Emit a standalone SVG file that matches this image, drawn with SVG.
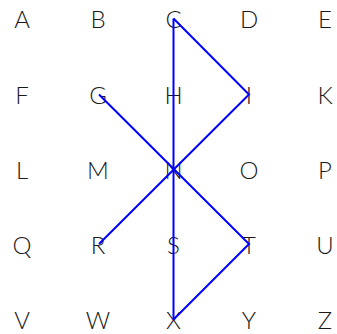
<svg xmlns="http://www.w3.org/2000/svg" width="337" height="334" viewBox="0 0 337 334">
<style>
text{font-family:Lato,"Noto Sans","Liberation Sans",sans-serif;font-size:24px;font-weight:300;fill:#1a1a1a;text-anchor:middle}
.c{stroke:#0000ff;stroke-width:2;fill:none;stroke-linejoin:miter}
</style>
<rect width="337" height="334" fill="#fff"/>
<g id="nodes">
<g id="A"><text x="22" y="28">A</text></g>
<g id="B"><text x="98" y="28">B</text></g>
<g id="C"><text x="173.5" y="28">C</text></g>
<g id="D"><text x="249" y="28">D</text></g>
<g id="E"><text x="325" y="28">E</text></g>
<g id="F"><text x="22" y="103.5">F</text></g>
<g id="G"><text x="98" y="103.5">G</text></g>
<g id="H"><text x="173.5" y="103.5">H</text></g>
<g id="I"><text x="249" y="103.5">I</text></g>
<g id="K"><text x="325" y="103.5">K</text></g>
<g id="L"><text x="22" y="179">L</text></g>
<g id="M"><text x="98" y="179">M</text></g>
<g id="N"><text x="173.5" y="179">N</text></g>
<g id="O"><text x="249" y="179">O</text></g>
<g id="P"><text x="325" y="179">P</text></g>
<g id="Q"><text x="22" y="254">Q</text></g>
<g id="R"><text x="98" y="254">R</text></g>
<g id="S"><text x="173.5" y="254">S</text></g>
<g id="T"><text x="249" y="254">T</text></g>
<g id="U"><text x="325" y="254">U</text></g>
<g id="V"><text x="22" y="329">V</text></g>
<g id="W"><text x="98" y="329">W</text></g>
<g id="X"><text x="173.5" y="329">X</text></g>
<g id="Y"><text x="249" y="329">Y</text></g>
<g id="Z"><text x="325" y="329">Z</text></g>
</g>
<g id="connectors">
<line class="c" x1="173.5" y1="18.5" x2="173.5" y2="319.5"/>
<polyline class="c" points="173.5,18.5 249,94.5 99,244"/>
<polyline class="c" points="99,94.5 249,244 173.5,319.5"/>
</g>
</svg>
